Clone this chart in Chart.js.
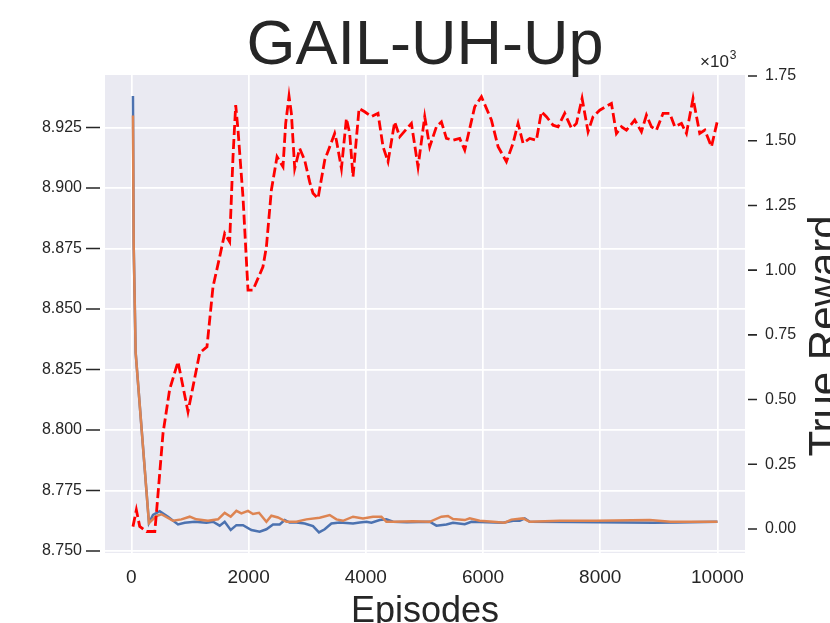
<!DOCTYPE html>
<html>
<head>
<meta charset="utf-8">
<script src="https://cdn.jsdelivr.net/npm/chart.js@4.4.1/dist/chart.umd.min.js"></script>
<style>
  html, body { margin: 0; padding: 0; background: #fff; }
  #wrap { width: 830px; height: 623px; }
</style>
</head>
<body>
<div id="wrap"><canvas id="chart" width="830" height="623"></canvas></div>
<script>
const TITLE = "GAIL-UH-Up";
const X_LABEL = "Episodes";
const Y2_LABEL = "True Reward";
const TEXT = "#262626";
const FONT = "'Liberation Sans', Arial, sans-serif";

const xTicks = [0, 2000, 4000, 6000, 8000, 10000];
const leftTicks = [8.750, 8.775, 8.800, 8.825, 8.850, 8.875, 8.900, 8.925];
const rightTicks = [0, 0.25, 0.5, 0.75, 1.0, 1.25, 1.5, 1.75];

// true reward (x10^3), dashed red, right axis
const rewardEpisodes = [27, 85, 142, 260, 400, 427, 540, 654, 796, 966, 1166, 1290, 1393, 1507, 1592, 1677, 1734, 1780, 1820, 1905,
  1990, 2075, 2245, 2304, 2389, 2485, 2587, 2633, 2690, 2730, 2787, 2872, 2957, 3043, 3099, 3184, 3299, 3469, 3498, 3584,
  3669, 3725, 3782, 3885, 3981, 4096, 4208, 4294, 4379, 4493, 4579, 4778, 4891, 5005, 5090, 5205, 5290, 5375, 5488, 5602,
  5688, 5858, 5973, 6143, 6257, 6399, 6512, 6598, 6683, 6797, 6911, 6996, 7082, 7195, 7280, 7394, 7509, 7594, 7690, 7792,
  7877, 7991, 8191, 8276, 8362, 8447, 8589, 8703, 8788, 8874, 8959, 9072, 9187, 9272, 9386, 9471, 9584, 9698, 9784, 9898, 9995];
const rewardValues = [0.009, 0.073, 0.010, -0.010, -0.010, 0.060, 0.370, 0.540, 0.646, 0.453, 0.680, 0.704, 0.936, 1.052, 1.142, 1.110, 1.438, 1.638, 1.540, 1.280,
  0.923, 0.923, 1.013, 1.090, 1.310, 1.438, 1.400, 1.567, 1.672, 1.606, 1.393, 1.470, 1.425, 1.340, 1.297, 1.277, 1.425, 1.528, 1.502, 1.393,
  1.586, 1.528, 1.361, 1.625, 1.612, 1.593, 1.606, 1.477, 1.419, 1.573, 1.515, 1.567, 1.399, 1.593, 1.477, 1.554, 1.573, 1.509, 1.502, 1.509,
  1.464, 1.631, 1.670, 1.580, 1.477, 1.419, 1.490, 1.567, 1.490, 1.509, 1.502, 1.612, 1.593, 1.560, 1.554, 1.606, 1.548, 1.567, 1.664, 1.535,
  1.593, 1.618, 1.644, 1.528, 1.554, 1.541, 1.580, 1.535, 1.599, 1.554, 1.541, 1.606, 1.606, 1.554, 1.567, 1.528, 1.664, 1.528, 1.541, 1.477, 1.573];

// blue series, left axis
const blueEpisodes = [27, 39, 73, 300, 369, 483, 625, 796, 910, 1080, 1280, 1393, 1507, 1592, 1695, 1792, 1905, 2048, 2189, 2304,
  2417, 2531, 2616, 2701, 2816, 2957, 3099, 3201, 3299, 3413, 3555, 3782, 3896, 4010, 4096, 4237, 4351, 4464, 4700, 5090,
  5205, 5375, 5488, 5688, 5802, 6342, 6512, 6626, 6712, 6797, 7500, 8900, 9300, 10000];
const blueValues = [8.938, 8.877, 8.832, 8.7616, 8.7649, 8.7665, 8.7642, 8.7610, 8.7617, 8.7621, 8.7617, 8.7621, 8.7605, 8.7621, 8.7587, 8.7607, 8.7607, 8.7587, 8.7580, 8.7590,
  8.7610, 8.7610, 8.7628, 8.7618, 8.7618, 8.7614, 8.7603, 8.7577, 8.7590, 8.7614, 8.7618, 8.7614, 8.7618, 8.7621, 8.7617, 8.7628, 8.7631, 8.7621, 8.7619, 8.7621,
  8.7605, 8.7610, 8.7617, 8.7611, 8.7621, 8.7617, 8.7625, 8.7625, 8.7635, 8.7621, 8.7620, 8.7617, 8.7618, 8.7621];

// orange series, left axis
const orangeEpisodes = [27, 39, 73, 300, 427, 512, 710, 853, 995, 1109, 1307, 1478, 1592, 1695, 1792, 1877, 1990, 2075, 2178, 2304,
  2389, 2502, 2645, 2816, 2986, 3213, 3384, 3498, 3611, 3782, 3952, 4123, 4266, 4351, 4500, 4800, 5090, 5290, 5402, 5488,
  5688, 5773, 5943, 6172, 6370, 6484, 6683, 6797, 7309, 7934, 8845, 9200, 10000];
const orangeValues = [8.930, 8.877, 8.832, 8.7616, 8.7645, 8.7652, 8.7625, 8.7631, 8.7642, 8.7631, 8.7625, 8.7631, 8.7658, 8.7642, 8.7666, 8.7656, 8.7666, 8.7653, 8.7658, 8.7621,
  8.7646, 8.7639, 8.7621, 8.7621, 8.7631, 8.7638, 8.7649, 8.7631, 8.7625, 8.7642, 8.7635, 8.7642, 8.7642, 8.7621, 8.7621, 8.7623, 8.7621, 8.7642, 8.7645, 8.7632,
  8.7628, 8.7635, 8.7625, 8.7621, 8.7617, 8.7630, 8.7635, 8.7621, 8.7625, 8.7625, 8.7628, 8.7621, 8.7621];

function points(xs, ys) {
  return xs.map((x, i) => ({ x, y: ys[i] }));
}

// background, tick marks and the free text around the axes
const decorations = {
  id: "decorations",
  beforeDraw(chart) {
    const { ctx, chartArea: a } = chart;
    ctx.save();
    ctx.fillStyle = "#EAEAF2";
    ctx.fillRect(a.left, a.top, a.right - a.left, a.bottom - a.top);
    ctx.restore();
  },
  afterDraw(chart) {
    const { ctx, chartArea: a, scales } = chart;
    ctx.save();
    ctx.strokeStyle = TEXT;
    ctx.fillStyle = TEXT;
    ctx.lineWidth = 1.6;
    ctx.beginPath();
    for (const v of leftTicks) {
      const y = scales.y.getPixelForValue(v);
      ctx.moveTo(a.left - 19, y);
      ctx.lineTo(a.left - 5, y);
    }
    for (const v of rightTicks) {
      const y = scales.y2.getPixelForValue(v);
      ctx.moveTo(a.right + 3, y);
      ctx.lineTo(a.right + 12, y);
    }
    ctx.stroke();

    const cx = (a.left + a.right) / 2;
    ctx.textAlign = "center";
    ctx.textBaseline = "alphabetic";
    ctx.font = `63px ${FONT}`;
    ctx.fillText(TITLE, cx, 64);
    ctx.font = `36px ${FONT}`;
    ctx.fillText(X_LABEL, cx, 622);

    // offset text of the right axis
    ctx.textAlign = "left";
    ctx.font = `17px ${FONT}`;
    const base = "\u00d710";
    const bx = a.right - 45;
    const bw = ctx.measureText(base).width;
    ctx.fillText(base, bx, 67);
    ctx.font = `12px ${FONT}`;
    ctx.fillText("3", bx + bw + 1, 59);

    ctx.translate(838, 336);
    ctx.rotate(-Math.PI / 2);
    ctx.textAlign = "center";
    ctx.font = `42px ${FONT}`;
    ctx.fillText(Y2_LABEL, 0, 0);
    ctx.restore();
  },
};

new Chart(document.getElementById("chart"), {
  type: "line",
  data: {
    datasets: [
      {
        label: "True Reward",
        data: points(rewardEpisodes, rewardValues),
        yAxisID: "y2",
        borderColor: "#FF0000",
        borderWidth: 2.8,
        borderDash: [10, 4],
        pointRadius: 0,
        tension: 0,
      },
      {
        label: "orange",
        data: points(orangeEpisodes, orangeValues),
        yAxisID: "y",
        borderColor: "#DD8452",
        borderWidth: 2.5,
        pointRadius: 0,
        tension: 0,
      },
      {
        label: "blue",
        data: points(blueEpisodes, blueValues),
        yAxisID: "y",
        borderColor: "#4C72B0",
        borderWidth: 2.5,
        pointRadius: 0,
        tension: 0,
      },
    ],
  },
  options: {
    responsive: false,
    animation: false,
    events: [],
    layout: { padding: { top: 75, left: 0, right: 0, bottom: 0 } },
    plugins: { legend: { display: false }, tooltip: { enabled: false }, title: { display: false } },
    scales: {
      x: {
        type: "linear",
        min: -450,
        max: 10470,
        afterBuildTicks: (scale) => { scale.ticks = xTicks.map(v => ({ value: v })); },
        afterFit: (scale) => { scale.height = 70; },
        border: { display: false },
        grid: { color: "#FFFFFF", lineWidth: 1.7, drawTicks: false },
        ticks: { color: TEXT, font: { family: FONT, size: 19 }, padding: 13, maxRotation: 0, callback: v => String(v) },
      },
      y: {
        position: "left",
        min: 8.7492,
        max: 8.9467,
        afterBuildTicks: (scale) => { scale.ticks = leftTicks.map(v => ({ value: v })); },
        afterFit: (scale) => { scale.width = 105; },
        border: { display: false },
        grid: { color: "#FFFFFF", lineWidth: 1.7, drawTicks: false },
        ticks: { color: TEXT, font: { family: FONT, size: 16 }, padding: 23, callback: v => v.toFixed(3) },
      },
      y2: {
        position: "right",
        min: -0.093,
        max: 1.754,
        afterBuildTicks: (scale) => { scale.ticks = rightTicks.map(v => ({ value: v })); },
        afterFit: (scale) => { scale.width = 85; },
        border: { display: false },
        grid: { display: false, drawTicks: false },
        ticks: { color: TEXT, font: { family: FONT, size: 16 }, padding: 20, callback: v => v.toFixed(2) },
      },
    },
  },
  plugins: [decorations],
});
</script>
</body>
</html>
